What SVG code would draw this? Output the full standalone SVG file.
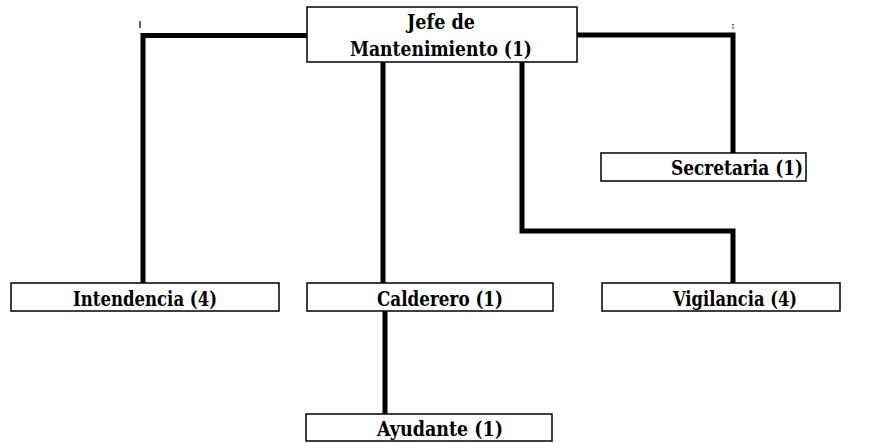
<svg xmlns="http://www.w3.org/2000/svg" width="875" height="443" viewBox="0 0 875 443">
  <style>
    .box { fill: #ffffff; stroke: #000000; stroke-width: 1.5; }
    .lbl { font-family: "DejaVu Serif", serif; font-weight: 700; font-size: 21px; fill: #000000; }
    .link { fill: none; stroke: #000000; stroke-width: 5; stroke-linejoin: miter; stroke-linecap: square; }
    .tick { stroke: #000000; stroke-width: 1.2; }
  </style>
  <rect width="875" height="443" fill="#ffffff"/>

  <!-- connectors -->
  <g id="connectors">
    <polyline class="link" points="307,35.5 143,35.5 143,282"/>
    <polyline class="link" points="577,35 733,35 733,152"/>
    <line class="link" x1="383" y1="63" x2="383" y2="282"/>
    <polyline class="link" points="522,63 522,231 733,231 733,282"/>
    <line class="link" x1="385" y1="312" x2="385" y2="413"/>
    <line class="tick" x1="140" y1="21" x2="140" y2="28"/>
    <line class="tick" x1="733" y1="24" x2="733" y2="29" stroke-dasharray="1.5 1.5"/>
  </g>

  <g id="jefe">
    <rect class="box" x="307" y="7" width="270" height="55"/>
    <text class="lbl" x="441" y="29" text-anchor="middle" textLength="68" lengthAdjust="spacingAndGlyphs">Jefe de</text>
    <text class="lbl" x="441" y="56" text-anchor="middle" textLength="182" lengthAdjust="spacingAndGlyphs">Mantenimiento (1)</text>
  </g>

  <g id="secretaria">
    <rect class="box" x="601" y="153" width="205" height="28"/>
    <text class="lbl" x="737" y="175" text-anchor="middle" textLength="132" lengthAdjust="spacingAndGlyphs">Secretaria (1)</text>
  </g>

  <g id="intendencia">
    <rect class="box" x="11" y="283" width="268" height="28"/>
    <text class="lbl" x="145" y="306" text-anchor="middle" textLength="144" lengthAdjust="spacingAndGlyphs">Intendencia (4)</text>
  </g>

  <g id="calderero">
    <rect class="box" x="307" y="283" width="246" height="28"/>
    <text class="lbl" x="440" y="306" text-anchor="middle" textLength="126" lengthAdjust="spacingAndGlyphs">Calderero (1)</text>
  </g>

  <g id="vigilancia">
    <rect class="box" x="602" y="283" width="238" height="28"/>
    <text class="lbl" x="735" y="306" text-anchor="middle" textLength="124" lengthAdjust="spacingAndGlyphs">Vigilancia (4)</text>
  </g>

  <g id="ayudante">
    <rect class="box" x="306" y="414" width="246" height="27"/>
    <text class="lbl" x="440" y="436" text-anchor="middle" textLength="126" lengthAdjust="spacingAndGlyphs">Ayudante (1)</text>
  </g>
</svg>
